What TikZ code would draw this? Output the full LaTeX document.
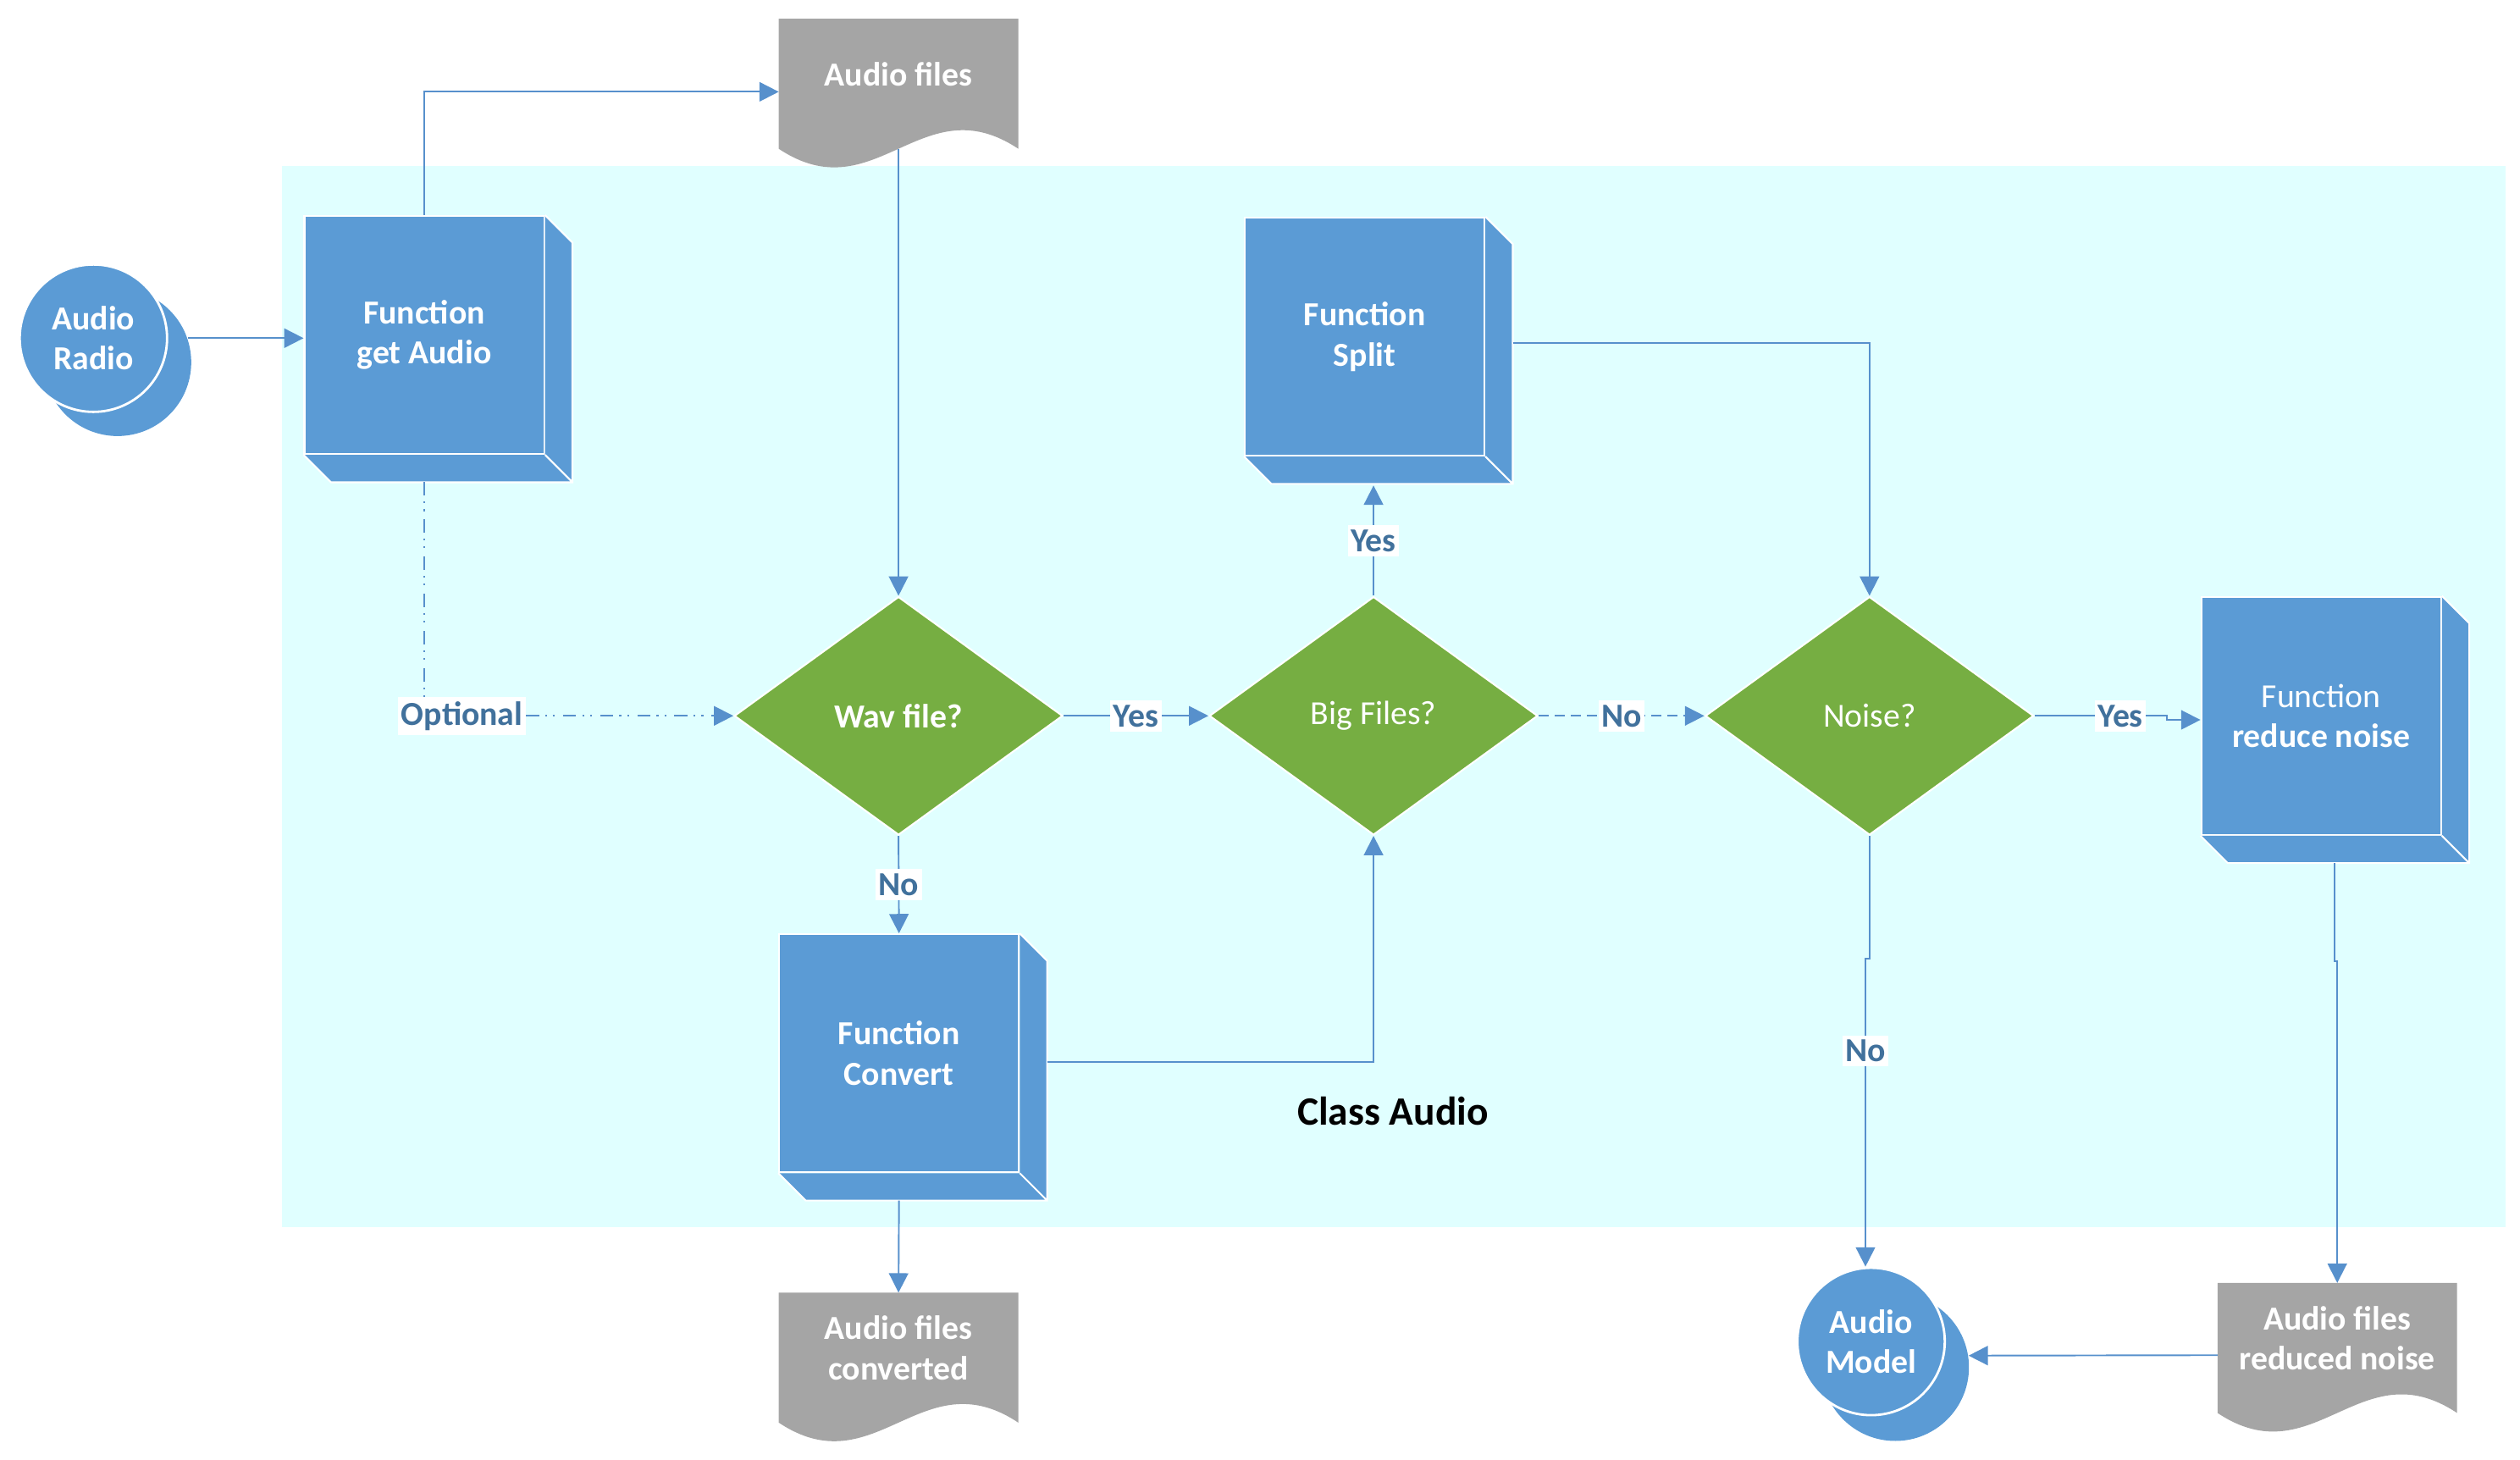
\documentclass[tikz,border=0pt]{standalone}
\usepackage{fontspec}
\setmainfont{Carlito}
\usetikzlibrary{shapes.geometric,arrows.meta,calc}
\definecolor{boxblue}{RGB}{91,155,213}
\definecolor{dgreen}{RGB}{118,174,66}
\definecolor{docgray}{RGB}{165,165,165}
\definecolor{bgcyan}{RGB}{224,255,255}
\definecolor{linecol}{RGB}{87,144,204}
\definecolor{lbltxt}{RGB}{65,113,156}
\pgfdeclarelayer{bglayer}
\pgfdeclarelayer{midlayer}
\pgfsetlayers{bglayer,midlayer,main}
\newcommand\myfnt{\fontsize{11.3}{13.5}\selectfont}
\newcommand\drawdepth[1]{%
  \fill[boxblue] (#1.north east) -- ++(17,17) -- ($(#1.south east)+(17,17)$) -- ($(#1.south west)+(17,17)$) -- (#1.south west) -- (#1.south east) -- cycle;
  \draw[white, line width=0.6pt] (#1.north east) -- ++(17,17) -- ($(#1.south east)+(17,17)$) -- ($(#1.south west)+(17,17)$) -- (#1.south west) (#1.south east) -- ++(17,17);
}
\newcommand\docshape[1]{%
  \begin{pgfonlayer}{midlayer}
  \fill[docgray] (#1.north west) -- (#1.north east) -- ($(#1.south east)+(0,12)$) .. controls +(-60,-40) and +(60,40) .. ($(#1.south west)+(0,12)$) -- cycle;
  \end{pgfonlayer}
}
\tikzset{
  circ/.style={circle, fill=boxblue, minimum size=1.74cm, inner sep=0pt},
  fbox/.style={rectangle, fill=boxblue, draw=white, line width=0.6pt, minimum width=2.83cm, minimum height=2.81cm, inner sep=0pt, text=white, font=\myfnt, align=center},
  dec/.style={diamond, fill=dgreen, draw=white, line width=0.6pt, minimum width=3.879cm, minimum height=2.814cm, inner sep=0pt, text=white, font=\myfnt},
  docn/.style={rectangle, minimum width=2.814cm, minimum height=1.293cm, inner sep=0pt, text=white, font=\bfseries\myfnt, align=center},
  lbl/.style={fill=white, text=lbltxt, font=\bfseries\myfnt, inner xsep=1pt, inner ysep=1.5pt},
  conn/.style={draw=linecol, line width=0.55pt, -{Triangle[length=6.5pt,width=6.5pt]}},
  dashdotdot/.style={dash pattern=on 4.5pt off 2pt on 0.6pt off 2pt on 0.6pt off 2.8pt},
  dashpat/.style={dash pattern=on 3.4pt off 2pt}
}
\begin{document}
\begin{tikzpicture}[x=0.019016cm, y=-0.019016cm]
\useasboundingbox (0,0) rectangle (1565,906.1);
\begin{pgfonlayer}{bglayer}
  \fill[bgcyan] (175,103) rectangle (1556,762);
\end{pgfonlayer}

% circles
\node[circ] (radioB) at (73,225) {};
\node[circ, draw=white, line width=0.8pt, text=white, font=\bfseries\myfnt, align=center] (radio) at (58,210) {Audio\\Radio};
\node[circ] (modelB) at (1177,849) {};
\node[circ, draw=white, line width=0.8pt, text=white, font=\bfseries\myfnt, align=center] (model) at (1162,833) {Audio\\Model};

% function boxes
\node[fbox] (getA) at (263.5,208) {\textbf{Function}\\\textbf{get Audio}};
\drawdepth{getA}
\node[fbox] (split) at (847.5,209) {\textbf{Function}\\\textbf{Split}};
\drawdepth{split}
\node[fbox] (convert) at (558.3,654) {\textbf{Function}\\\textbf{Convert}};
\drawdepth{convert}
\node[fbox] (reduce) at (1441.5,444.5) {Function\\\textbf{reduce noise}};
\drawdepth{reduce}

% decisions
\node[dec] (wav) at (558,444.5) {\textbf{Wav file?}};
\node[dec] (big) at (853,444.5) {Big Files?};
\node[dec] (noise) at (1161,444.5) {Noise?};

% documents
\node[docn] (afiles) at (558,46) {Audio files};
\docshape{afiles}
\node[docn] (afconv) at (558,837) {Audio files\\converted};
\docshape{afconv}
\node[docn] (afred) at (1451.5,831) {Audio files\\reduced noise};
\docshape{afred}

% class label
\node[font=\bfseries\fontsize{13.5}{16}\selectfont] (cls) at (865,690) {Class Audio};

% connectors
\draw[conn] (radioB.19) -- (radioB.19 -| getA.west);
\coordinate (afw) at ($(afiles.west)+(0,11)$);
\draw[conn] (getA.north) |- (afw);
\draw[conn] ($(afiles.south)+(0,12)$) -- (wav.north);
\draw[conn, dashdotdot] ($(getA.south)+(0,17)$) |- (wav.west) node[lbl, pos=0.561] {Optional};
\draw[conn] (wav.east) -- (big.west) node[lbl, midway] {Yes};
\draw[conn] (wav.south) -- (convert.north) node[lbl, midway] {No};
\draw[conn] ($(convert.east)+(17,5.5)$) -| (big.south);
\coordinate (splitb) at ($(split.south)+(0,18)$);
\draw[conn] (big.north) -- (big.north |- splitb) node[lbl, midway] {Yes};
\draw[conn] ($(split.east)+(17,4)$) -| (noise.north);
\draw[conn, dashpat] (big.east) -- (noise.west) node[lbl, midway] {No};
\coordinate (rw) at ($(reduce.west)+(0,2.5)$);
\draw[conn] (noise.east) -- ++(82,0) node[lbl, pos=0.65] {Yes} |- (rw);
\coordinate (nj) at ($(noise.south)+(-2.5,76)$);
\draw[conn] (noise.south) -- ++(0,76) -- (nj) -- (nj |- model.north) node[lbl, pos=0.3] {No};
\draw[conn] ($(reduce.south)+(8.5,17)$) -- ++(0,61) -| (afred.north);
\coordinate (arw) at ($(afred.west)+(0,10.5)$);
\draw[conn] (arw) -- (modelB.9.5);
\draw[conn] ($(convert.south)+(0,17)$) -- (afconv.north);
\end{tikzpicture}
\end{document}
